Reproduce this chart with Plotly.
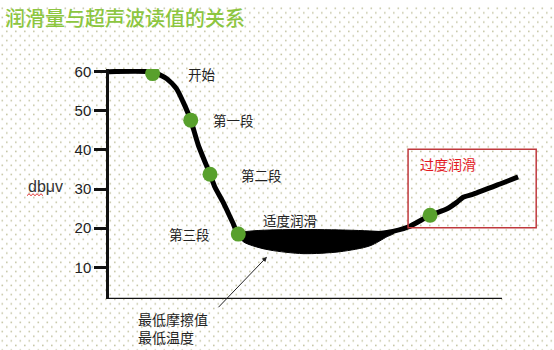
import base64
import plotly.graph_objects as go

W, H = 554, 350

# ---------------- data ----------------
title_text = "润滑量与超声波读值的关系"
y_label = "dbμv"
y_ticks = [10, 20, 30, 40, 50, 60]

# main black curve (lubrication amount vs reading)
curve_x = [0.0, 1.11, 1.47, 1.72, 1.88, 2.08, 2.27, 2.57, 2.70, 2.90, 3.16, 3.29,
           5.00, 6.60, 7.07, 7.61, 8.17, 8.59, 8.85, 9.01, 9.27, 9.95, 10.41]
curve_y = [60.0, 59.9, 58.2, 55.6, 52.4, 47.6, 41.3, 33.8, 30.4, 26.7, 21.2, 18.6,
           18.5, 18.5, 18.9, 20.3, 23.3, 24.9, 26.6, 27.9, 28.7, 31.3, 33.1]

# black "lowest friction" zone
zone_x = [3.29, 3.41, 3.66, 4.10, 4.94, 5.88, 6.64, 7.07, 7.25, 3.29]
zone_y = [18.6, 16.6, 15.5, 14.4, 13.5, 14.0, 15.5, 17.8, 18.7, 18.6]

# green stage points
stage_x = [1.11, 2.08, 2.57, 3.29, 8.17]
stage_y = [59.5, 47.6, 33.8, 18.5, 23.3]

# stage labels
label_text = ["开始", "第一段", "第二段", "第三段", "适度润滑"]
label_x = [2.37, 3.16, 3.87, 2.04, 4.61]
label_y = [59.3, 47.6, 33.7, 18.6, 22.0]

over_text = "过度润滑"
over_box_x = [7.61, 10.87]
over_box_y = [20.1, 40.2]

note_lines = ["最低摩擦值", "最低温度"]
arrow_head = (4.02, 12.7)

x_axis_end = 10.0
y_range = [1.94, 60.7]
x_range = [0, 11.3]


def px(x):
    return x / W


def py(y):
    return 1 - y / H


# ---------------- dotted background ----------------
svg = f"""<svg xmlns='http://www.w3.org/2000/svg' width='{W}' height='{H}'>
<defs><pattern id='p' width='9' height='9.4' patternUnits='userSpaceOnUse'>
<rect x='1.5' y='1.5' width='1.6' height='1.6' fill='#c6c6a6'/>
<rect x='6' y='6.2' width='1.6' height='1.6' fill='#c6c6a6'/>
</pattern></defs>
<rect width='100%' height='100%' fill='#ffffff'/>
<rect width='100%' height='100%' fill='url(#p)'/>
</svg>"""
bg_src = "data:image/svg+xml;base64," + base64.b64encode(svg.encode()).decode()

fig = go.Figure()

fig.add_trace(go.Scatter(
    x=zone_x, y=zone_y, mode="lines", fill="toself", fillcolor="#000000",
    line=dict(color="#000000", width=1, shape="spline", smoothing=0.8),
    hoverinfo="skip", showlegend=False))

fig.add_trace(go.Scatter(
    x=curve_x, y=curve_y, mode="lines",
    line=dict(color="#000000", width=5, shape="spline", smoothing=0.6),
    hoverinfo="skip", showlegend=False))

fig.add_trace(go.Scatter(
    x=stage_x, y=stage_y, mode="markers",
    marker=dict(color="#58a02c", size=15, line=dict(width=0)),
    hoverinfo="skip", showlegend=False))

cjk = "Noto Sans CJK SC"
for t, x, y in zip(label_text, label_x, label_y):
    fig.add_annotation(x=x, y=y, xref="x", yref="y", text=t, showarrow=False,
                       font=dict(family=cjk, size=13.5, color="#222222"))

fig.add_annotation(x=8.63, y=36.4, xref="x", yref="y", text=over_text, showarrow=False,
                   font=dict(family=cjk, size=14, color="#e3191e"))

fig.add_shape(type="rect", xref="x", yref="y",
              x0=over_box_x[0], x1=over_box_x[1], y0=over_box_y[0], y1=over_box_y[1],
              line=dict(color="#c0393d", width=1.5), fillcolor="rgba(0,0,0,0)")

# x axis line
fig.add_shape(type="line", xref="x", yref="y", x0=0, x1=x_axis_end,
              y0=y_range[0], y1=y_range[0], line=dict(color="#111111", width=2.5))

# arrow
fig.add_annotation(x=arrow_head[0], y=arrow_head[1], xref="x", yref="y", ax=-50, ay=52,
                   text="", showarrow=True, arrowhead=2, arrowsize=1, arrowwidth=1,
                   arrowcolor="#222222")

fig.add_annotation(x=px(136), y=py(328), xref="paper", yref="paper",
                   xanchor="left", yanchor="middle", align="left",
                   text="<br>".join(note_lines), showarrow=False,
                   font=dict(family=cjk, size=14, color="#222222"))

fig.add_annotation(x=px(3), y=py(12), xref="paper", yref="paper", xanchor="left",
                   yanchor="middle", text=title_text, showarrow=False,
                   font=dict(family=cjk, size=20, color="#8cc63f", weight=500))

fig.add_annotation(x=px(26), y=py(184), xref="paper", yref="paper", xanchor="left",
                   yanchor="middle", text=y_label, showarrow=False,
                   font=dict(family="Liberation Sans", size=16, color="#333333"))

# spell-check squiggle under the unit label
zz = [(27, 193), (29, 191), (31, 193), (33, 191), (35, 193), (37, 191), (39, 193), (41, 191), (43, 193)]
path = "M " + " L ".join(f"{px(a):.5f},{py(b):.5f}" for a, b in zz)
fig.add_shape(type="path", xref="paper", yref="paper", path=path,
              line=dict(color="#e03030", width=1))

fig.update_layout(
    width=W, height=H, margin=dict(l=0, r=0, t=0, b=0),
    paper_bgcolor="#ffffff", plot_bgcolor="rgba(0,0,0,0)",
    images=[dict(source=bg_src, xref="paper", yref="paper", x=0, y=1, sizex=1, sizey=1,
                 sizing="stretch", layer="below", xanchor="left", yanchor="top")],
    xaxis=dict(domain=[px(109), px(109 + 11.3 * 39.3)], range=x_range, showgrid=False,
               zeroline=False, showline=False, showticklabels=False, ticks=""),
    yaxis=dict(domain=[py(298), py(64)], range=y_range, showgrid=False, zeroline=False,
               showline=True, linecolor="#111111", linewidth=2.5,
               tickmode="array", tickvals=y_ticks, ticks="outside", ticklen=12,
               tickwidth=2.5, tickcolor="#111111",
               tickfont=dict(family="Liberation Sans", size=15, color="#222222")),
)

fig.write_html("out.html")
